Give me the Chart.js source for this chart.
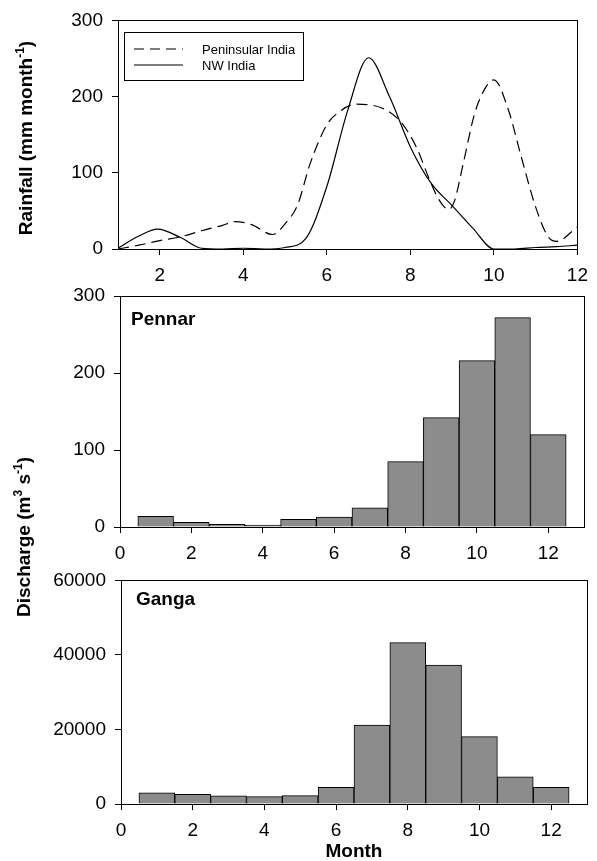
<!DOCTYPE html>
<html><head><meta charset="utf-8">
<script src="https://cdn.jsdelivr.net/npm/chart.js@4.4.0/dist/chart.umd.min.js"></script>
<style>
body{margin:0;background:#fff;width:597px;height:861px;position:relative;overflow:hidden;font-family:"Liberation Sans",Arial,sans-serif;color:#000;}
canvas{position:absolute;left:0;}
.ytitle{position:absolute;font-weight:bold;font-size:19px;white-space:nowrap;transform:translate(-50%,-50%) rotate(-90deg);}
.ytitle sup{font-size:12px;vertical-align:top;position:relative;top:-2px;}
.panel{position:absolute;font-weight:bold;font-size:19px;white-space:nowrap;}
.xtitle{position:absolute;font-weight:bold;font-size:19px;white-space:nowrap;transform:translateX(-50%);}
#legend{position:absolute;left:124px;top:32px;width:178px;height:47px;border:1px solid #000;font-size:13px;}
#legend .row{position:absolute;left:0;height:16px;display:flex;align-items:center;}
#legend svg{margin-left:9px;margin-right:19px;}
</style>
</head><body>
<canvas id="c1" width="597" height="290" style="top:0px"></canvas>
<canvas id="c2" width="597" height="300" style="top:270px"></canvas>
<canvas id="c3" width="597" height="290" style="top:560px"></canvas>

<div id="legend">
  <div class="row" style="top:8px"><svg width="49" height="4"><line x1="0" y1="2" x2="49" y2="2" stroke="#000" stroke-width="1.2" stroke-dasharray="10,6"/></svg><span>Peninsular India</span></div>
  <div class="row" style="top:24px"><svg width="49" height="4"><line x1="0" y1="2" x2="49" y2="2" stroke="#000" stroke-width="1.2"/></svg><span>NW India</span></div>
</div>
<div class="ytitle" style="left:26px;top:138px">Rainfall (mm month<sup>-1</sup>)</div>
<div class="ytitle" style="left:24px;top:537px">Discharge (m<sup>3</sup> s<sup>-1</sup>)</div>
<div class="panel" style="left:131px;top:308px">Pennar</div>
<div class="panel" style="left:136px;top:588px">Ganga</div>
<div class="xtitle" style="left:354px;top:840px">Month</div>

<script>
// ---- data ----
const peninsularMonths = [1, 1.5, 2, 2.5, 3, 3.5, 3.8, 4.2, 4.7, 5.0, 5.3, 5.6, 6.0, 6.25, 6.7, 7.4, 7.8, 8.15, 8.45, 8.65, 8.8, 8.92, 9.05, 9.25, 9.55, 9.85, 10.0, 10.35, 10.65, 11.0, 11.3, 11.5, 12];
const peninsularRain   = [0, 5, 11, 16, 24, 31, 36, 32, 19, 33, 58, 112, 163, 178, 190, 183, 165, 133, 92, 68, 56, 52, 62, 108, 180, 216, 222, 182, 122, 55, 16, 10, 29];
const nwMonths = [1, 1.5, 1.95, 2.5, 3, 3.5, 4, 4.5, 5, 5.5, 6, 6.5, 7.0, 7.5, 8, 8.5, 9, 9.5, 10, 10.5, 11, 11.5, 12];
const nwRain   = [1, 17, 26, 15, 1, 0, 1, 0, 2, 14, 82, 182, 251, 200, 134, 86, 57, 27, 0, 0, 2, 3, 5];

const barMonths = [1, 2, 3, 4, 5, 6, 7, 8, 9, 10, 11, 12];
const pennarDischarge = [14, 6, 3.5, 2.5, 10, 13, 25, 85, 142, 216, 272, 120];
const gangaDischarge  = [3000, 2600, 2200, 2000, 2250, 4500, 21200, 43300, 37300, 18100, 7300, 4500];

const rainXTicks = [2, 4, 6, 8, 10, 12];
const monthXTicks = [0, 2, 4, 6, 8, 10, 12];
const rainYTicks = [0, 100, 200, 300];
const pennarYTicks = [0, 100, 200, 300];
const gangaYTicks = [0, 20000, 40000, 60000];

// ---- helpers ----
const FONT = {family: '"Liberation Sans", Arial, sans-serif', size: 19};
const pts = (xs, ys) => xs.map((x, i) => ({x: x, y: ys[i]}));

function xAxis(min, max, tickVals, h) {
  return {
    type: 'linear', position: 'bottom', min: min, max: max, offset: false,
    afterBuildTicks: s => { s.ticks = tickVals.map(v => ({value: v})); },
    afterFit: s => { s.height = h; },
    grid: {offset: false, drawOnChartArea: false, drawTicks: true, tickLength: 6, color: '#000', lineWidth: 1},
    border: {display: true, color: '#000', width: 1},
    ticks: {color: '#000', font: FONT, padding: 9, maxRotation: 0, autoSkip: false, callback: v => String(v)}
  };
}
function yAxis(min, max, tickVals, w) {
  return {
    type: 'linear', position: 'left', min: min, max: max,
    afterBuildTicks: s => { s.ticks = tickVals.map(v => ({value: v})); },
    afterFit: s => { s.width = w; },
    grid: {drawOnChartArea: false, drawTicks: true, tickLength: 6, color: '#000', lineWidth: 1},
    border: {display: true, color: '#000', width: 1},
    ticks: {color: '#000', font: FONT, padding: 9, autoSkip: false, callback: v => String(v)}
  };
}
const frame = {
  id: 'frame',
  afterDraw(chart) {
    const a = chart.chartArea, ctx = chart.ctx;
    ctx.save();
    ctx.strokeStyle = '#000'; ctx.lineWidth = 1;
    ctx.strokeRect(Math.round(a.left) + 0.5, Math.round(a.top) + 0.5, Math.round(a.right - a.left), Math.round(a.bottom - a.top));
    ctx.restore();
  }
};
const common = {
  responsive: false, animation: false, devicePixelRatio: 1,
  plugins: {legend: {display: false}, tooltip: {enabled: false}, title: {display: false}}
};

// ---- top: rainfall ----
new Chart(document.getElementById('c1'), {
  type: 'line',
  data: {datasets: [
    {label: 'Peninsular India', data: pts(peninsularMonths, peninsularRain), borderColor: '#000', borderWidth: 1.2, borderDash: [11, 6], pointRadius: 0, fill: false, cubicInterpolationMode: 'monotone'},
    {label: 'NW India', data: pts(nwMonths, nwRain), borderColor: '#000', borderWidth: 1.2, pointRadius: 0, fill: false, cubicInterpolationMode: 'monotone'}
  ]},
  options: Object.assign({}, common, {
    layout: {padding: {top: 20, right: 14, left: 0, bottom: 0}},
    scales: {x: xAxis(1, 12, rainXTicks, 41), y: yAxis(0, 300, rainYTicks, 118)}
  }),
  plugins: [frame]
});

// ---- middle: Pennar ----
const barDs = (vals) => ({label: 'Discharge', data: pts(barMonths, vals), backgroundColor: '#8c8c8c', borderColor: '#000', borderWidth: 1, barPercentage: 1, categoryPercentage: 1, borderSkipped: 'bottom'});
new Chart(document.getElementById('c2'), {
  type: 'bar',
  data: {datasets: [barDs(pennarDischarge)]},
  options: Object.assign({}, common, {
    layout: {padding: {top: 26, right: 13, left: 0, bottom: 0}},
    scales: {x: xAxis(0, 13, monthXTicks, 43), y: yAxis(0, 300, pennarYTicks, 120)}
  }),
  plugins: [frame]
});

// ---- bottom: Ganga ----
new Chart(document.getElementById('c3'), {
  type: 'bar',
  data: {datasets: [barDs(gangaDischarge)]},
  options: Object.assign({}, common, {
    layout: {padding: {top: 14, right: 10, left: 0, bottom: 0}},
    scales: {x: xAxis(0, 13, monthXTicks, 46), y: yAxis(0, 60000, gangaYTicks, 121)}
  }),
  plugins: [frame]
});
</script>
</body></html>
